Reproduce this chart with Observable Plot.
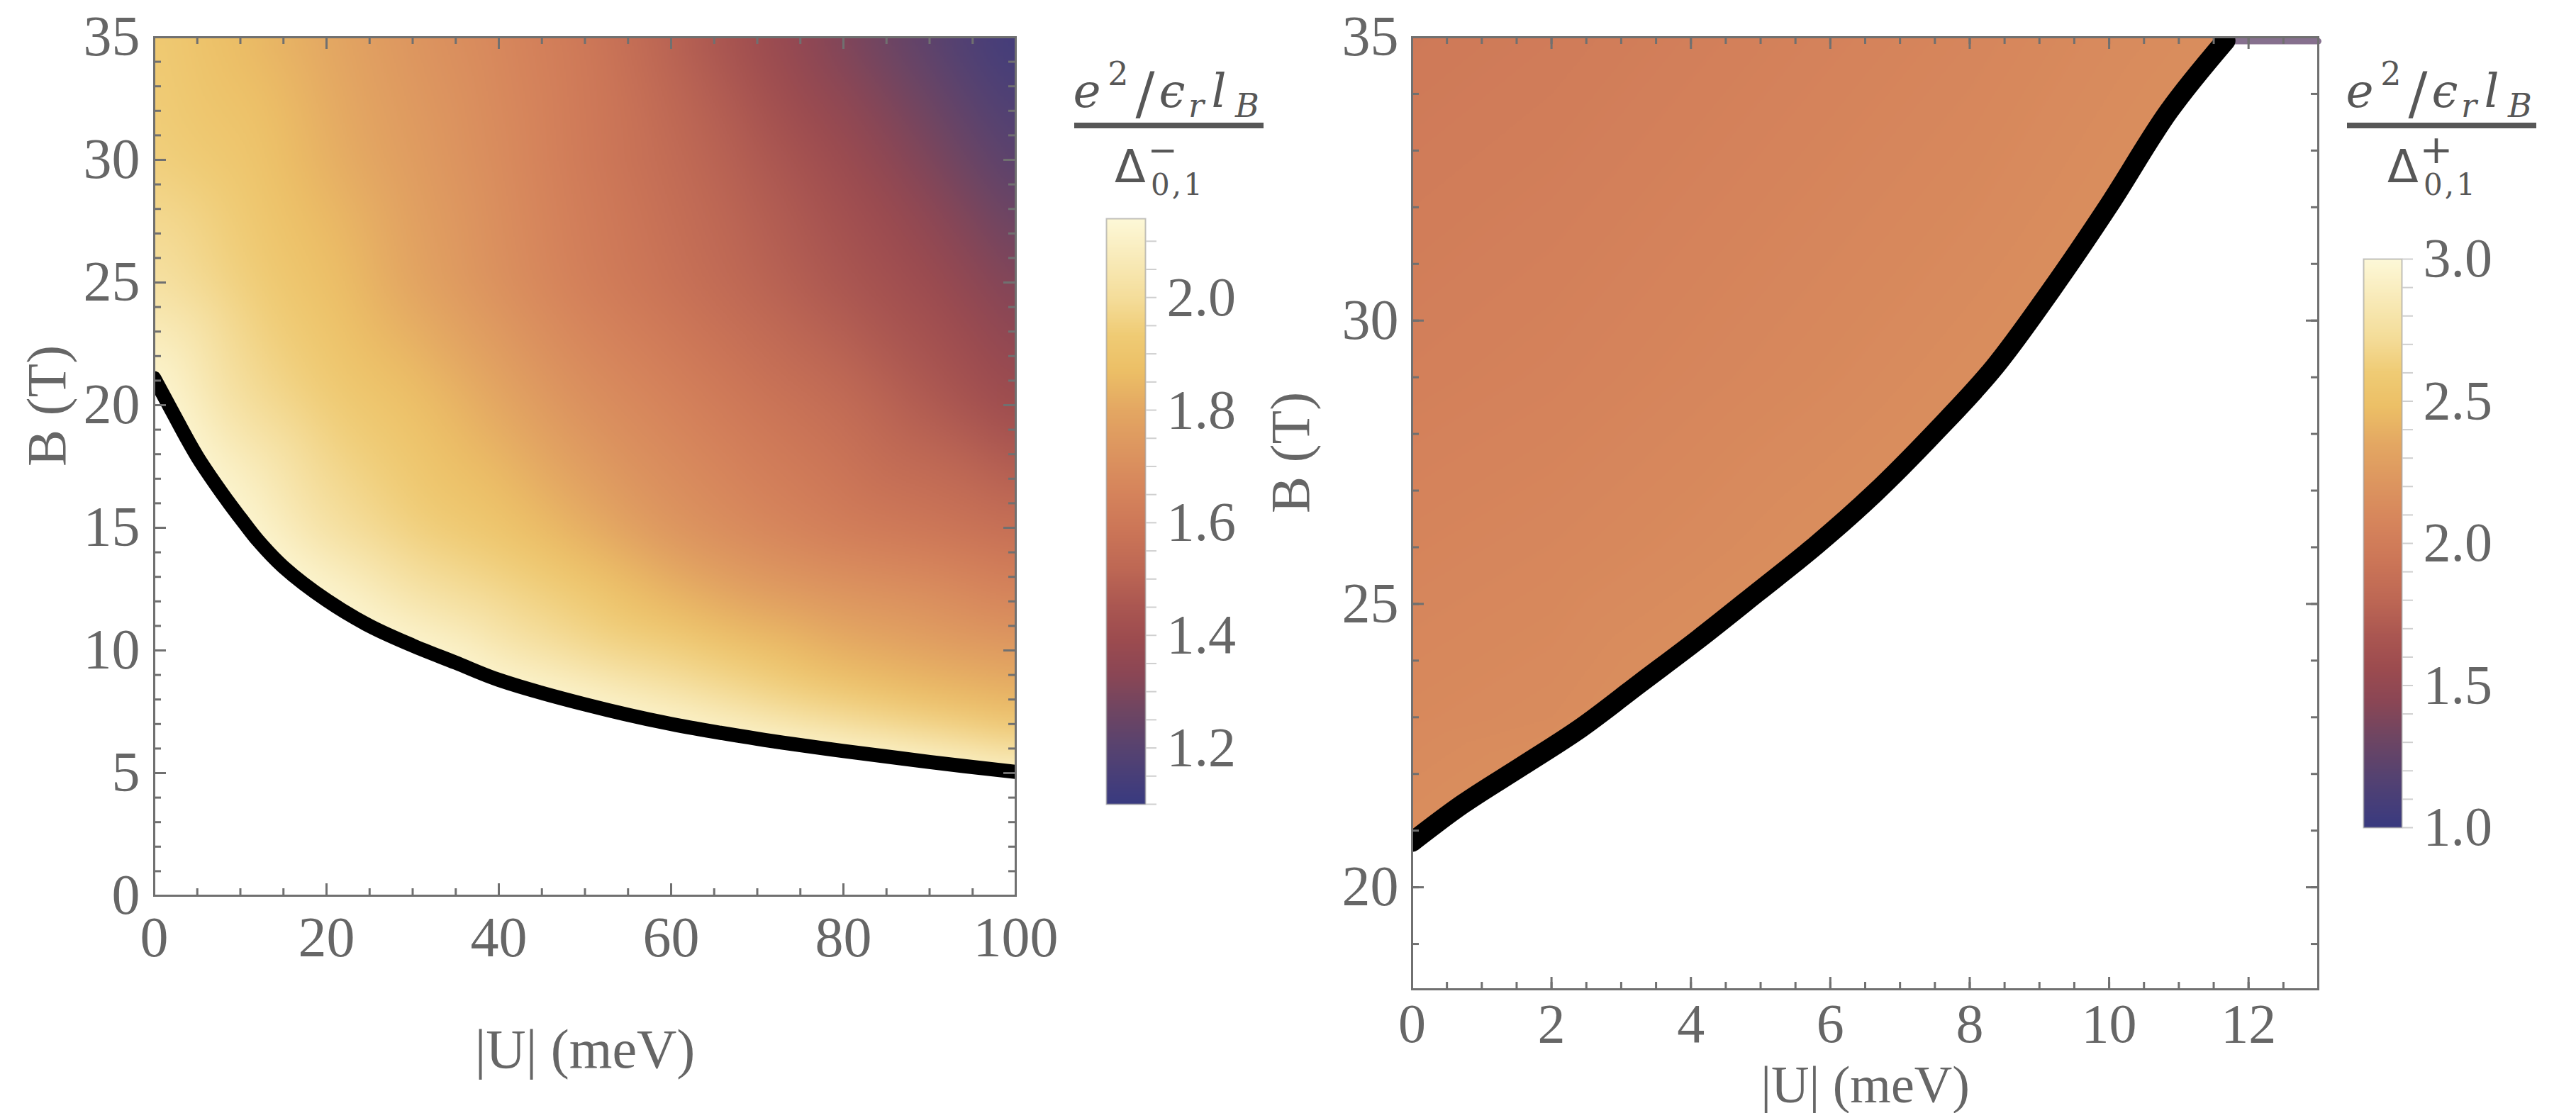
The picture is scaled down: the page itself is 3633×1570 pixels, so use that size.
<!DOCTYPE html>
<html>
<head>
<meta charset="utf-8">
<script src="https://cdn.jsdelivr.net/npm/d3@7"></script>
<script src="https://cdn.jsdelivr.net/npm/@observablehq/plot@0.6"></script>
<style>
  html, body { margin: 0; padding: 0; background: #fff; overflow: hidden; }
  #page { position: relative; width: 3633px; height: 1570px; background: #fff; overflow: hidden; }
  .abs { position: absolute; }
  .abs svg { display: block; max-width: none !important; }
</style>
</head>
<body>
<div id="page"></div>
<script>
// ---------- colour map ----------
const cmapT = [0.00, 0.09, 0.16, 0.22, 0.28, 0.34, 0.40, 0.47, 0.53, 0.60, 0.67, 0.74, 0.80, 0.86, 0.93, 1.00];
const cmapColors = ["#393a80", "#554271", "#6f4562", "#8a4655", "#9c4b4f", "#ab5751", "#bd6754", "#cc7657",
                    "#d5835b", "#dc945f", "#e3a662", "#ecbf66", "#efcb74", "#f4dc98", "#f8eab8", "#fdf8d8"];

// ---------- left panel ----------
const leftDomainU = [0, 100];
const leftDomainB = [0, 35];
const leftColorDomain = [1.1, 2.14];
const leftUTicks = [0, 20, 40, 60, 80, 100];
const leftBTicks = [0, 5, 10, 15, 20, 25, 30, 35];
const leftGridU = [0, 10, 20, 30, 40, 50, 60, 70, 80, 90, 100];
const leftGridB = [35, 30, 25, 20, 15, 12, 10, 8, 7, 6];
const leftGridV = [
  [1.93, 1.86, 1.80, 1.73, 1.67, 1.60, 1.50, 1.40, 1.30, 1.21, 1.12],
  [1.95, 1.91, 1.83, 1.76, 1.69, 1.61, 1.54, 1.47, 1.39, 1.30, 1.20],
  [2.02, 1.95, 1.88, 1.79, 1.71, 1.63, 1.57, 1.51, 1.45, 1.39, 1.30],
  [null, 2.01, 1.94, 1.88, 1.80, 1.71, 1.65, 1.59, 1.54, 1.47, 1.39],
  [null, null, 2.02, 1.95, 1.90, 1.82, 1.73, 1.67, 1.62, 1.59, 1.55],
  [null, null, null, 2.04, 1.99, 1.93, 1.85, 1.78, 1.74, 1.71, 1.66],
  [null, null, null, null, 2.05, 1.99, 1.95, 1.89, 1.82, 1.78, 1.75],
  [null, null, null, null, null, null, 2.05, 1.99, 1.93, 1.88, 1.84],
  [null, null, null, null, null, null, null, 2.06, 2.01, 1.95, 1.90],
  [null, null, null, null, null, null, null, null, null, 2.07, 1.99]
];
const leftCurveU = [0, 2, 5, 8.5, 10, 12, 15, 20, 25, 30, 35, 40, 50, 60, 70, 80, 90, 100];
const leftCurveB = [21.1, 19.8, 17.9, 16.1, 15.4, 14.5, 13.4, 12.05, 11.0, 10.2, 9.5, 8.8, 7.8, 7.0, 6.4, 5.9, 5.45, 5.05];
const leftCurveV = [2.13, 2.13, 2.13, 2.13, 2.13, 2.13, 2.13, 2.13, 2.13, 2.13, 2.13, 2.13, 2.13, 2.13, 2.13, 2.13, 2.13, 2.13];
const leftColorbarTicks = [1.2, 1.4, 1.6, 1.8, 2.0];

// ---------- right panel ----------
const rightDomainU = [0, 13];
const rightDomainB = [18.2, 35];
const rightColorDomain = [1, 3];
const rightUTicks = [0, 2, 4, 6, 8, 10, 12];
const rightBTicks = [20, 25, 30, 35];
const rightGridU = [0, 2, 4, 6, 8, 10];
const rightGridB = [35, 32, 29, 26, 23];
const rightGridV = [
  [1.97, 1.99, 2.02, 2.05, 2.08, 2.12],
  [2.00, 2.02, 2.05, 2.08, 2.11, null],
  [2.03, 2.05, 2.08, 2.11, null, null],
  [2.07, 2.09, 2.12, null, null, null],
  [2.11, 2.13, null, null, null, null]
];
const rightCurveU = [0, 0.73, 1.58, 2.42, 3.27, 4.11, 4.95, 5.79, 6.64, 7.48, 8.33, 9.17, 10.0, 10.86, 11.67];
const rightCurveB = [20.8, 21.47, 22.14, 22.81, 23.6, 24.38, 25.2, 26.03, 26.96, 28.0, 29.14, 30.54, 32.04, 33.7, 34.94];
const rightCurveV = [2.15, 2.15, 2.15, 2.15, 2.15, 2.15, 2.15, 2.15, 2.15, 2.15, 2.15, 2.15, 2.15, 2.15, 2.15];
const rightTopEdgeU = [11.72, 13];
const rightTopEdgeB = [34.93, 34.93];
const rightColorbarTicks = [1.0, 1.5, 2.0, 2.5, 3.0];

const axisTitleU = "|U| (meV)";
const axisTitleB = "B (T)";

// ---------- helpers ----------
const SERIF = "'Liberation Serif', 'Times New Roman', serif";
const TICK_COLOR = "#707070";
const LABEL_COLOR = "#666666";

function colorScale(domain) {
  return {
    type: "linear",
    domain: cmapT.map(t => domain[0] + t * (domain[1] - domain[0])),
    range: cmapColors,
    clamp: true
  };
}

function gridPoints(U, B, V) {
  const pts = [];
  B.forEach((b, i) => U.forEach((u, j) => { if (V[i][j] != null) pts.push({u, b, v: V[i][j]}); }));
  return pts;
}
function curvePoints(U, B, V) {
  return U.map((u, i) => ({u, b: B[i], v: V ? V[i] : null}));
}

function frameTicks(xs, ys, xMinor, yMinor, fw, fh) {
  const major = 17, minor = 10, sw = 3;
  const o = {stroke: TICK_COLOR, strokeWidth: sw};
  return [
    Plot.tickX(xMinor, {x: d => d, insetTop: fh - minor, ...o}),
    Plot.tickX(xMinor, {x: d => d, insetBottom: fh - minor, ...o}),
    Plot.tickX(xs, {x: d => d, insetTop: fh - major, ...o}),
    Plot.tickX(xs, {x: d => d, insetBottom: fh - major, ...o}),
    Plot.tickY(yMinor, {y: d => d, insetRight: fw - minor, ...o}),
    Plot.tickY(yMinor, {y: d => d, insetLeft: fw - minor, ...o}),
    Plot.tickY(ys, {y: d => d, insetRight: fw - major, ...o}),
    Plot.tickY(ys, {y: d => d, insetLeft: fw - major, ...o})
  ];
}

function place(node, left, top, w, h) {
  const div = document.createElement("div");
  div.className = "abs";
  div.style.left = left + "px";
  div.style.top = top + "px";
  div.style.width = w + "px";
  div.style.height = h + "px";
  div.appendChild(node);
  document.getElementById("page").appendChild(div);
}

// ---------- left panel ----------
{
  const W = 1460, H = 1570, mt = 52, ml = 217, mr = 28, mb = 307;
  const fw = W - ml - mr, fh = H - mt - mb;
  const heat = gridPoints(leftGridU, leftGridB, leftGridV).concat(curvePoints(leftCurveU, leftCurveB, leftCurveV));
  const curve = curvePoints(leftCurveU, leftCurveB);
  const plot = Plot.plot({
    width: W, height: H, marginTop: mt, marginLeft: ml, marginRight: mr, marginBottom: mb,
    x: {domain: leftDomainU, axis: null},
    y: {domain: leftDomainB, axis: null},
    color: colorScale(leftColorDomain),
    style: {background: "none", overflow: "visible"},
    marks: [
      Plot.raster(heat, {x: "u", y: "b", fill: "v", interpolate: "barycentric", pixelSize: 2, blur: 14}),
      Plot.areaY(curve, {x: "u", y1: 0, y2: "b", fill: "white", curve: "catmull-rom"}),
      Plot.line(curve, {x: "u", y: "b", stroke: "black", strokeWidth: 20, curve: "catmull-rom", clip: true}),
      ...frameTicks(leftUTicks, leftBTicks, d3.range(0, 101, 5), d3.range(0, 36, 1), fw, fh),
      Plot.frame({stroke: TICK_COLOR, strokeWidth: 3}),
      Plot.text(leftUTicks, {x: d => d, text: d => String(d), frameAnchor: "bottom", dy: 60, lineAnchor: "middle",
        fontSize: 80, fontFamily: SERIF, fill: LABEL_COLOR}),
      Plot.text(leftBTicks, {y: d => d, text: d => String(d), frameAnchor: "left", dx: -20, textAnchor: "end",
        lineAnchor: "middle", fontSize: 80, fontFamily: SERIF, fill: LABEL_COLOR}),
      Plot.text([axisTitleU], {text: d => d, frameAnchor: "bottom", dy: 218, lineAnchor: "middle",
        fontSize: 78, fontFamily: SERIF, fill: LABEL_COLOR}),
      Plot.text([axisTitleB], {text: d => d, frameAnchor: "left", dx: -150, rotate: -90, lineAnchor: "middle",
        fontSize: 78, fontFamily: SERIF, fill: LABEL_COLOR})
    ]
  });
  place(plot, 0, 0, W, H);
}

// ---------- right panel ----------
{
  const W = 1600, H = 1570, mt = 52, ml = 291, mr = 31, mb = 175;
  const fw = W - ml - mr, fh = H - mt - mb;
  const heat = gridPoints(rightGridU, rightGridB, rightGridV).concat(curvePoints(rightCurveU, rightCurveB, rightCurveV));
  const curve = curvePoints(rightCurveU, rightCurveB);
  const mask = curve.concat([{u: rightDomainU[1], b: rightDomainB[1]}]);
  const topEdge = rightTopEdgeU.map((u, i) => ({u, b: rightTopEdgeB[i]}));
  const plot = Plot.plot({
    width: W, height: H, marginTop: mt, marginLeft: ml, marginRight: mr, marginBottom: mb,
    x: {domain: rightDomainU, axis: null},
    y: {domain: rightDomainB, axis: null},
    color: colorScale(rightColorDomain),
    style: {background: "none", overflow: "visible"},
    marks: [
      Plot.raster(heat, {x: "u", y: "b", fill: "v", interpolate: "barycentric", pixelSize: 2, blur: 10}),
      Plot.areaY(mask, {x: "u", y1: rightDomainB[0], y2: "b", fill: "white"}),
      Plot.line(topEdge, {x: "u", y: "b", stroke: "#86708e", strokeWidth: 9}),
      Plot.line(curve, {x: "u", y: "b", stroke: "black", strokeWidth: 28, curve: "catmull-rom", clip: true}),
      ...frameTicks(rightUTicks, rightBTicks, d3.range(0, 13.01, 0.5), d3.range(19, 35.01, 1), fw, fh),
      Plot.frame({stroke: TICK_COLOR, strokeWidth: 3}),
      Plot.text(rightUTicks, {x: d => d, text: d => String(d), frameAnchor: "bottom", dy: 50, lineAnchor: "middle",
        fontSize: 78, fontFamily: SERIF, fill: LABEL_COLOR}),
      Plot.text(rightBTicks, {y: d => d, text: d => String(d), frameAnchor: "left", dx: -19, textAnchor: "end",
        lineAnchor: "middle", fontSize: 80, fontFamily: SERIF, fill: LABEL_COLOR}),
      Plot.text([axisTitleU], {text: d => d, frameAnchor: "bottom", dy: 136, lineAnchor: "middle",
        fontSize: 74, fontFamily: SERIF, fill: LABEL_COLOR}),
      Plot.text([axisTitleB], {text: d => d, frameAnchor: "left", dx: -170, rotate: -90, lineAnchor: "middle",
        fontSize: 78, fontFamily: SERIF, fill: LABEL_COLOR})
    ]
  });
  place(plot, 1700, 0, W, H);
}

// ---------- colour bars ----------
function colorbar(domain, labels, minorTicks, left, top, W, H, mt, mb, ml, barW) {
  const plot = Plot.plot({
    width: W, height: H, marginTop: mt, marginBottom: mb, marginLeft: ml, marginRight: W - ml - barW,
    x: {domain: [0, 1], axis: null},
    y: {domain: domain},
    color: colorScale(domain),
    style: {background: "none", overflow: "visible"},
    marks: [
      Plot.raster({fill: (x, y) => y, x1: 0, x2: 1, y1: domain[0], y2: domain[1], width: 2, height: 600}),
      Plot.frame({stroke: "#9a9a9a", strokeOpacity: 0.6, strokeWidth: 2}),
      Plot.axisY(minorTicks, {anchor: "right", tickSize: 15, tickFormat: () => "", color: "#cfcfcf", strokeWidth: 2, label: null}),
      Plot.axisY(labels, {anchor: "right", tickSize: 0, tickPadding: 30, tickFormat: d3.format(".1f"),
        color: LABEL_COLOR, fontSize: 78, fontFamily: SERIF, label: null})
    ]
  });
  place(plot, left, top, W, H);
}
colorbar(leftColorDomain, leftColorbarTicks, d3.range(1.1, 2.1001, 0.05), 1540, 280, 260, 900, 28, 46, 20, 55);
colorbar(rightColorDomain, rightColorbarTicks, d3.range(1.0, 3.0001, 0.1), 3313, 330, 300, 900, 35, 63, 20, 54);

// ---------- colour-bar titles: (e^2/eps_r l_B) / Delta^{-/+}_{0,1} ----------
{
  const svg = d3.select("#page").append("svg")
    .attr("width", 3633).attr("height", 1570)
    .style("position", "absolute").style("left", "0px").style("top", "0px")
    .style("pointer-events", "none");
  const SERIF2 = "'DejaVu Serif', serif";
  const SANS2 = "'DejaVu Sans', sans-serif";
  function title(ox, sign) {
    const g = svg.append("g").attr("transform", `translate(${ox},0)`).attr("fill", "#575757");
    const t = (s, x, y, size, fam, style) => g.append("text").text(s)
      .attr("x", x).attr("y", y).attr("text-anchor", "middle")
      .attr("font-size", size).attr("font-family", fam).attr("font-style", style || "normal");
    t("e", 18, 151, 66, SERIF2, "italic");
    t("2", 62, 120, 46, SERIF2);
    t("/", 100, 160, 80, SERIF2);
    t("\u03F5", 138, 151, 66, SERIF2, "italic");
    t("r", 172, 165, 46, SERIF2, "italic");
    t("l", 204, 151, 66, SERIF2, "italic");
    t("B", 244, 165, 46, SERIF2, "italic");
    g.append("rect").attr("x", 0).attr("y", 173).attr("width", 267).attr("height", 8);
    t("\u0394", 79, 257, 64, SANS2);
    if (sign === "-") t("\u2212", 125, 229, 50, SANS2);
    else t("+", 126, 230, 56, SANS2);
    t("0,1", 146, 275, 42, SERIF2).attr("letter-spacing", 3);
  }
  title(1515, "-");
  title(3310, "+");
}
</script>
</body>
</html>
